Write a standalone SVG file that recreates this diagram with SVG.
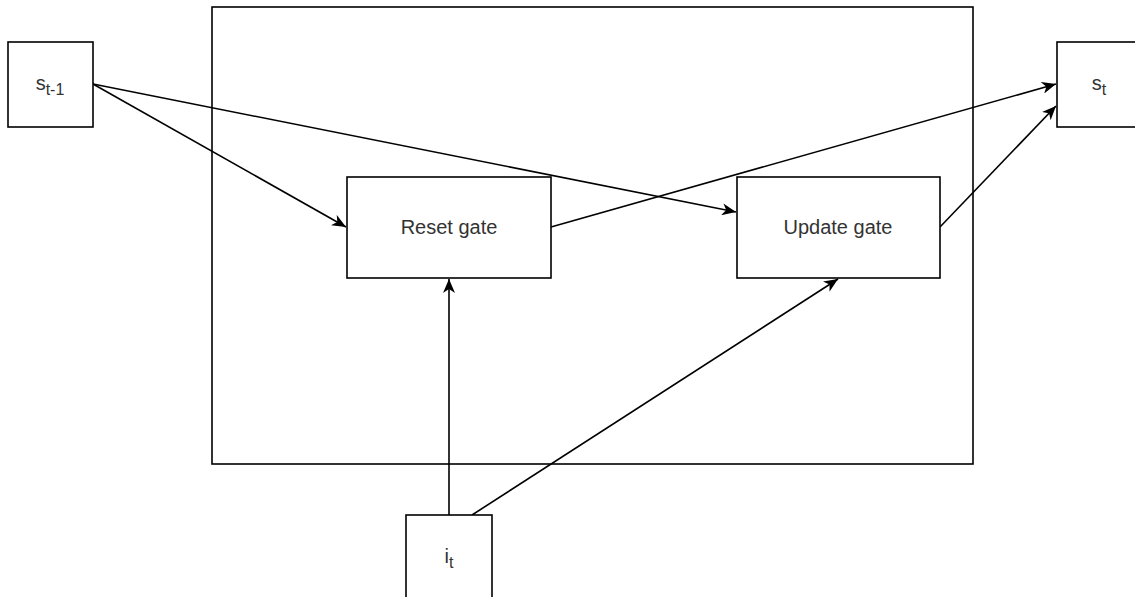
<svg xmlns="http://www.w3.org/2000/svg" width="1135" height="597" viewBox="0 0 1135 597">
<style>
.box{fill:#fff;stroke:#000;stroke-width:1.6}
.lbl{font-family:"Liberation Sans",Arial,sans-serif;font-size:20px;fill:#333;text-anchor:middle}
.sub{font-size:16px}
.edge{fill:none;stroke:#000;stroke-width:1.6;marker-end:url(#arr)}
</style>
<defs>
<marker id="arr" markerUnits="userSpaceOnUse" markerWidth="16" markerHeight="12" refX="14" refY="6" orient="auto">
<path d="M0,0 L14,6 L0,12 L4,6 Z" fill="#000"/>
</marker>
</defs>
<g id="cell">
<rect class="box" x="212" y="7" width="761" height="457"/>
</g>
<g id="connectors">
<line class="edge" x1="93" y1="84" x2="346" y2="227"/>
<line class="edge" x1="93" y1="84" x2="736" y2="212"/>
<line class="edge" x1="551" y1="227" x2="1056" y2="84"/>
<line class="edge" x1="940" y1="227" x2="1056" y2="106"/>
<line class="edge" x1="449" y1="515" x2="449" y2="279"/>
<line class="edge" x1="472" y1="515" x2="838" y2="279"/>
</g>
<g id="s_prev">
<rect class="box" x="8" y="42" width="85" height="85"/>
<text class="lbl" x="50" y="90">s<tspan class="sub" dy="5">t-1</tspan></text>
</g>
<g id="s_t">
<rect class="box" x="1057" y="42" width="85" height="85"/>
<text class="lbl" x="1099" y="90">s<tspan class="sub" dy="5">t</tspan></text>
</g>
<g id="i_t">
<rect class="box" x="406" y="515" width="86" height="86"/>
<text class="lbl" x="449" y="563">i<tspan class="sub" dy="5">t</tspan></text>
</g>
<g id="reset_gate">
<rect class="box" x="347" y="177" width="204" height="101"/>
<text class="lbl" x="449" y="234">Reset gate</text>
</g>
<g id="update_gate">
<rect class="box" x="737" y="177" width="203" height="101"/>
<text class="lbl" x="838" y="234">Update gate</text>
</g>
</svg>
